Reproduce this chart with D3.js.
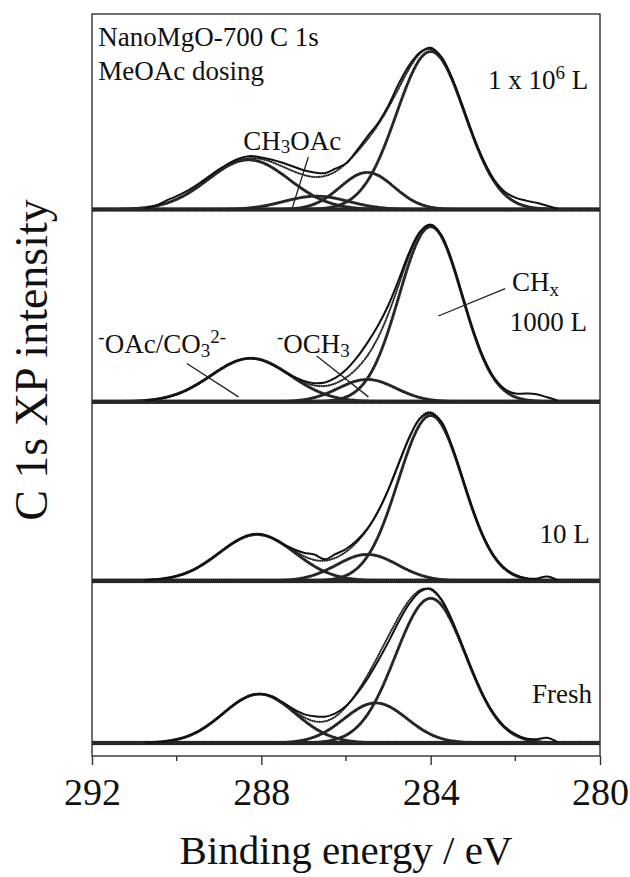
<!DOCTYPE html>
<html>
<head>
<meta charset="utf-8">
<script src="https://cdn.jsdelivr.net/npm/d3@7"></script>
<style>
  html, body { margin: 0; padding: 0; background: #fff; overflow: hidden; }
  svg { display: block; }
  text { font-family: "Liberation Serif", "Times New Roman", serif; fill: #111; }
</style>
</head>
<body>
<svg id="chart" width="630" height="877"></svg>
<script>
// panels from bottom to top
const panels = ['Fresh', '10 L', '1000 L', '1 x 10^6 L'];
const offsets = [1.75, 23.6, 47.75, 73.65];

// measured C 1s spectra (binding energy, intensity above each baseline)
const energy = [290.75, 290.5, 290.25, 290, 289.75, 289.5, 289.25, 289, 288.75, 288.5,
  288.25, 288, 287.75, 287.5, 287.25, 287, 286.75, 286.5, 286.25, 286,
  285.75, 285.5, 285.25, 285, 284.75, 284.5, 284.25, 284, 283.75, 283.5,
  283.25, 283, 282.75, 282.5, 282.25, 282, 281.75, 281.5, 281.25, 281];
const expFresh = [0.05, 0.1, 0.25, 0.5, 0.9, 1.55, 2.45, 3.5, 4.7, 5.7, 6.4, 6.6, 6.3, 5.5, 4.6, 3.9, 3.6, 3.55, 4.0, 5.0,
  6.6, 8.6, 11.0, 13.6, 16.4, 18.8, 20.4, 20.8, 19.4, 16.6, 13.1, 9.5, 6.3, 3.9, 2.2, 1.2, 0.6, 0.5, 0.7, 0.1];
const exp10 = [0.1, 0.2, 0.35, 0.65, 1.1, 1.8, 2.7, 3.75, 4.8, 5.7, 6.25, 6.3, 5.8, 5.0, 4.3, 3.8, 3.55, 2.9, 3.6, 4.3,
  5.4, 7.0, 9.3, 12.3, 15.9, 19.4, 21.9, 22.6, 21.5, 18.2, 13.9, 9.5, 5.9, 3.3, 1.7, 0.8, 0.35, 0.3, 0.6, 0.1];
const exp1000 = [0.15, 0.3, 0.6, 1.0, 1.6, 2.4, 3.3, 4.25, 5.1, 5.65, 5.85, 5.6, 5.0, 4.2, 3.4, 2.8, 2.5, 2.6, 3.2, 4.3,
  5.9, 7.9, 10.2, 13.0, 16.5, 20.2, 22.9, 23.85, 22.5, 19.0, 14.3, 9.7, 5.9, 3.2, 1.7, 1.1, 1.1, 1.0, 0.6, 0.15];
const exp1e6 = [0.2, 0.5, 1.2, 1.8, 2.5, 3.4, 4.4, 5.4, 6.3, 6.9, 7.2, 7.0, 6.7, 6.3, 5.8, 5.3, 5.0, 4.9, 5.5, 6.2,
  7.9, 9.8, 11.6, 14.0, 17.0, 19.5, 21.2, 21.8, 20.6, 17.8, 14.0, 10.0, 6.6, 4.0, 2.4, 1.6, 1.2, 0.9, 0.5, 0.1];
const spectra = [expFresh, exp10, exp1000, exp1e6];

// fitted gaussian components per panel: OAc/CO3, (CH3OAc), OCH3, CHx
const fitCentre = [[288.05, 285.3, 284.0], [288.1, 285.5, 284.0], [288.25, 285.5, 284.0], [288.3, 286.7, 285.5, 284.0]];
const fitFwhm = [[2.0, 1.75, 1.95], [2.1, 1.7, 1.8], [2.2, 1.6, 1.75], [2.25, 1.8, 1.5, 1.9]];
const fitHeight = [[6.6, 5.4, 19.5], [6.25, 3.57, 22.3], [5.85, 3.0, 23.6], [6.7, 1.8, 5.0, 21.3]];

const xTicks = [292, 288, 284, 280];
const xMinor = [290, 286, 282];

const svg = d3.select('#chart');
const width = +svg.attr('width');
const height = +svg.attr('height');
const margin = { top: 14, right: 30, bottom: 121, left: 92 };
const innerWidth = width - margin.left - margin.right;
const innerHeight = height - margin.top - margin.bottom;

const xScale = d3.scaleLinear().domain([292, 280]).range([0, innerWidth]);
const yScale = d3.scaleLinear().domain([0, 100]).range([innerHeight, 0]);

svg.append('defs').append('clipPath').attr('id', 'clip')
  .append('rect').attr('width', innerWidth).attr('height', innerHeight);

// curves go in their own clipped group, all text lives in a separate layer
const plot = svg.append('g')
  .attr('transform', `translate(${margin.left}, ${margin.top})`)
  .append('g')
  .attr('clip-path', 'url(#clip)');

const g = svg.append('g')
  .attr('transform', `translate(${margin.left}, ${margin.top})`);

const gauss = (e, c, w, h) => h * Math.exp(-4 * Math.LN2 * (e - c) * (e - c) / (w * w));
const grid = d3.range(0, 241).map(k => 292 - k * 0.05);

const line = d3.line()
  .x(d => xScale(d[0]))
  .y(d => yScale(d[1]));
const smooth = d3.line()
  .x(d => xScale(d[0]))
  .y(d => yScale(d[1]))
  .curve(d3.curveCatmullRom.alpha(0.5));

// beaded line look of the fitted curves
const beads = (sel, w, gap) => {
  sel.append('path').attr('fill', 'none').attr('stroke', '#444').attr('stroke-width', 1);
  sel.append('path').attr('fill', 'none').attr('stroke', '#262626')
    .attr('stroke-width', w).attr('stroke-linecap', 'round')
    .attr('stroke-dasharray', `0.01 ${gap}`);
};

panels.forEach((name, i) => {
  const base = offsets[i];
  const pg = plot.append('g').attr('class', 'panel');

  const comps = fitCentre[i].map((c, j) =>
    grid.map(e => [e, base + gauss(e, c, fitFwhm[i][j], fitHeight[i][j])]));
  const envelope = grid.map(e => [e, base + d3.sum(fitCentre[i], (c, j) => gauss(e, c, fitFwhm[i][j], fitHeight[i][j]))]);

  // baseline
  const bl = pg.append('g');
  beads(bl, 4.6, 2.0);
  bl.selectAll('path').attr('d', line([[292, base], [280, base]]));

  comps.forEach(pts => {
    const cg = pg.append('g');
    beads(cg, 3.1, 2.1);
    cg.selectAll('path').attr('d', line(pts));
  });

  const eg = pg.append('g');
  beads(eg, 2.2, 2.4);
  eg.selectAll('path').attr('d', line(envelope));

  pg.append('path')
    .attr('fill', 'none')
    .attr('stroke', '#111')
    .attr('stroke-width', 2)
    .attr('stroke-linejoin', 'round')
    .attr('d', smooth(energy.map((e, k) => [e, base + spectra[i][k]])));
});

// frame
g.append('rect')
  .attr('width', innerWidth)
  .attr('height', innerHeight)
  .attr('fill', 'none')
  .attr('stroke', '#333')
  .attr('stroke-width', 1.4);

// x axis
const xAxisG = g.append('g')
  .attr('transform', `translate(0, ${innerHeight})`)
  .call(d3.axisBottom(xScale).tickValues(xTicks).tickSize(9).tickPadding(13).tickFormat(d3.format('d')));
xAxisG.select('.domain').remove();
xAxisG.selectAll('.tick line').attr('stroke', '#333').attr('stroke-width', 1.4);
xAxisG.selectAll('.tick text')
  .style('font-size', '38px')
  .style('font-family', '"Liberation Serif", "Times New Roman", serif')
  .attr('fill', '#111');

g.append('g')
  .attr('transform', `translate(0, ${innerHeight})`)
  .selectAll('line')
  .data(xMinor)
  .enter()
  .append('line')
    .attr('x1', d => xScale(d))
    .attr('x2', d => xScale(d))
    .attr('y1', 0)
    .attr('y2', 5)
    .attr('stroke', '#333')
    .attr('stroke-width', 1.4);

svg.append('text')
  .attr('x', margin.left + innerWidth / 2)
  .attr('y', 864)
  .attr('text-anchor', 'middle')
  .style('font-size', '41px')
  .text('Binding energy / eV');

svg.append('text')
  .attr('transform', 'translate(47, 360) rotate(-90)')
  .attr('text-anchor', 'middle')
  .style('font-size', '46px')
  .text('C 1s XP intensity');

// annotations (placed in data coordinates)
const note = (e, v, anchor) => g.append('text')
  .attr('x', xScale(e))
  .attr('y', yScale(v))
  .attr('text-anchor', anchor)
  .style('font-size', '27px');
const sub = (t, s, dy) => t.append('tspan').attr('dy', dy).style('font-size', '19px').text(s);
const pointer = (e1, v1, e2, v2) => g.append('line')
  .attr('x1', xScale(e1)).attr('y1', yScale(v1))
  .attr('x2', xScale(e2)).attr('y2', yScale(v2))
  .attr('stroke', '#222').attr('stroke-width', 1.3);

note(291.85, 95.7, 'start').text('NanoMgO-700 C 1s');
note(291.85, 91.1, 'start').text('MeOAc dosing');

let t = note(280.28, 89.9, 'end');
t.append('tspan').text('1 x 10');
sub(t, '6', -10);
t.append('tspan').attr('dy', 10).text(' L');

t = note(288.43, 81.67, 'start');
t.append('tspan').text('CH');
sub(t, '3', 3);
t.append('tspan').attr('dy', -3).text('OAc');
pointer(286.89, 80.73, 287.27, 73.85);

t = note(282.08, 62.7, 'start');
t.append('tspan').text('CH');
sub(t, 'x', 5);
pointer(282.24, 63.0, 283.82, 59.3);

note(280.31, 57.3, 'end').text('1000 L');

t = note(291.85, 54.3, 'start');
sub(t, '-', -10);
t.append('tspan').attr('dy', 10).text('OAc/CO');
sub(t, '3', 4);
sub(t, '2-', -14);
pointer(289.76, 52.9, 288.54, 48.4);

t = note(287.63, 54.3, 'start');
sub(t, '-', -10);
t.append('tspan').attr('dy', 10).text('OCH');
sub(t, '3', 4);
pointer(286.69, 53.9, 285.47, 48.4);

note(280.24, 28.7, 'end').text('10 L');
note(280.19, 7.14, 'end').text('Fresh');
</script>
</body>
</html>
